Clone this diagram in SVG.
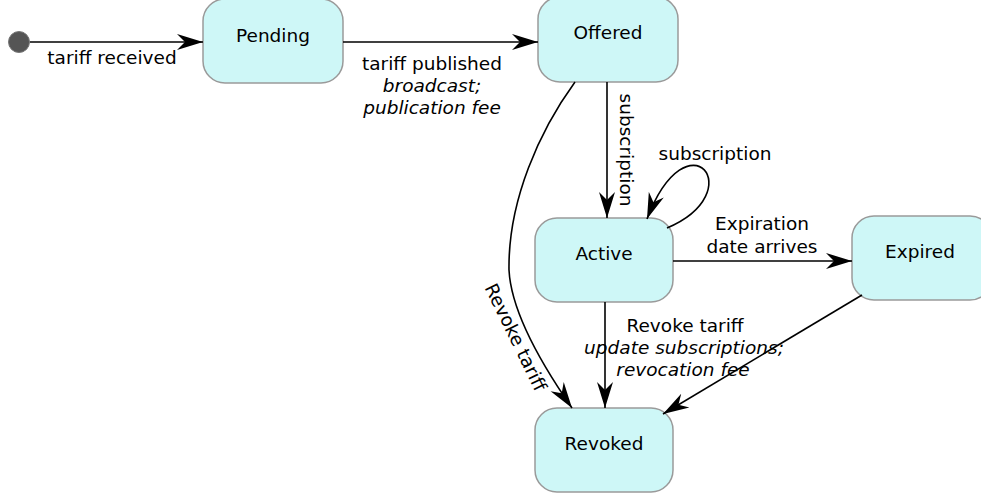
<svg xmlns="http://www.w3.org/2000/svg" width="981" height="494" viewBox="0 0 981 494">
<defs>
<style>
.node rect{fill:#cef7f7;stroke:#9a9a9a;stroke-width:1.5}
text{font-family:"DejaVu Sans","Liberation Sans",sans-serif;font-size:18.5px;fill:#000}
.lbl{text-anchor:middle}
.it{font-style:italic}
.edge{fill:none;stroke:#000;stroke-width:1.6}
</style>
<marker id="arr" markerUnits="userSpaceOnUse" markerWidth="27" markerHeight="18" viewBox="0 0 27 18" refX="26" refY="9" orient="auto">
<path d="M0,1 L26,9 L0,17 L8,9 Z" fill="#000"/>
</marker>
</defs>
<rect width="981" height="494" fill="#fff"/>

<g id="start"><circle cx="19" cy="42" r="10.5" fill="#555" stroke="#777" stroke-width="1"/></g>

<g id="pending" class="node"><rect x="203" y="-1" width="140" height="84" rx="22"/><text class="lbl" x="273" y="42">Pending</text></g>
<g id="offered" class="node"><rect x="538" y="-3" width="140" height="85" rx="22"/><text class="lbl" x="608" y="39">Offered</text></g>
<g id="active" class="node"><rect x="535" y="218" width="138" height="84" rx="22"/><text class="lbl" x="604" y="260">Active</text></g>
<g id="expired" class="node"><rect x="852" y="216" width="140" height="84" rx="22"/><text class="lbl" x="920" y="258">Expired</text></g>
<g id="revoked" class="node"><rect x="535" y="408" width="138" height="84" rx="22"/><text class="lbl" x="604" y="450">Revoked</text></g>

<g id="connectors">
<path class="edge" d="M30,42 L203,42" marker-end="url(#arr)"/>
<path class="edge" d="M343,42 L538,42" marker-end="url(#arr)"/>
<path class="edge" d="M607,82 L607,218" marker-end="url(#arr)"/>
<path class="edge" d="M667,228 C752,192 688,112 647,219" marker-end="url(#arr)"/>
<path class="edge" d="M673,261 L852,261" marker-end="url(#arr)"/>
<path class="edge" d="M605,302 L605,408" marker-end="url(#arr)"/>
<path class="edge" d="M862,295 L663,414" marker-end="url(#arr)"/>
<path class="edge" d="M575,82 C540,130 508,200 509,270 C511,310 540,362 572,408" marker-end="url(#arr)"/>

<text class="lbl" x="112" y="64">tariff received</text>
<text class="lbl" x="432" y="70">tariff published</text>
<text class="lbl it" x="432" y="92">broadcast;</text>
<text class="lbl it" x="432" y="114">publication fee</text>
<text class="lbl" transform="translate(620,150) rotate(90)">subscription</text>
<text class="lbl" x="715" y="160">subscription</text>
<text class="lbl" x="762" y="230">Expiration</text>
<text class="lbl" x="762" y="253">date arrives</text>
<text class="lbl" x="685" y="332">Revoke tariff</text>
<text class="lbl it" x="684" y="354">update subscriptions;</text>
<text class="lbl it" x="683" y="376">revocation fee</text>
<text class="lbl" transform="translate(510,340) rotate(64)">Revoke tariff</text>
</g>
</svg>
